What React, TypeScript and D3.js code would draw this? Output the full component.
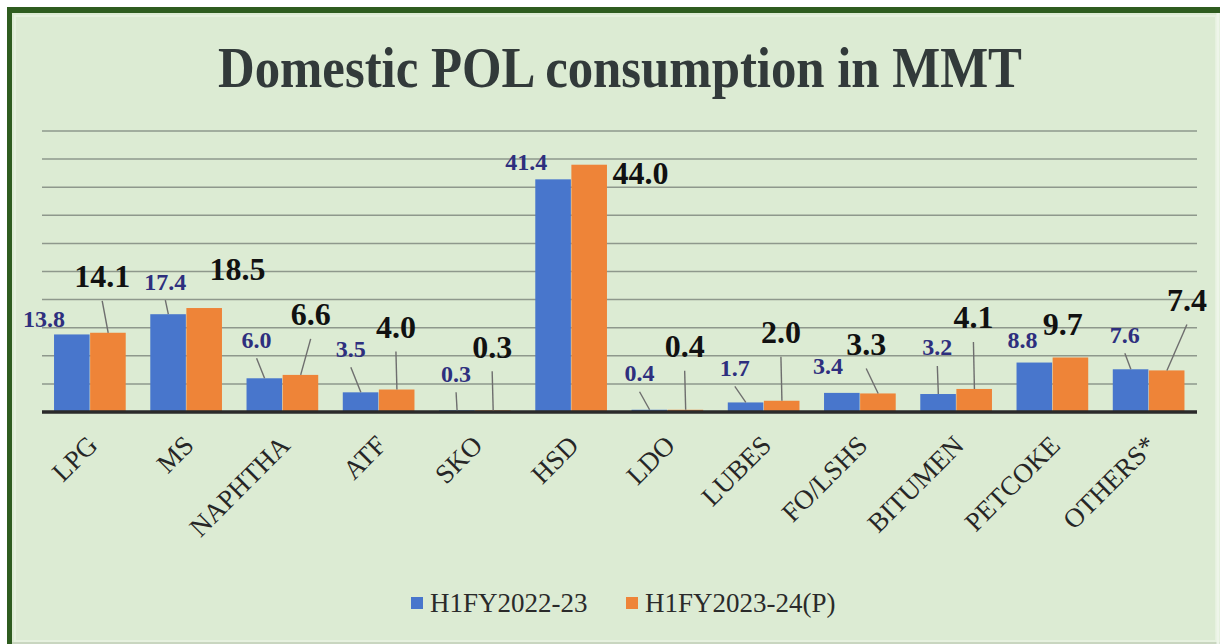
import * as d3 from "d3";
import React from "react";

const categories = ["LPG", "MS", "NAPHTHA", "ATF", "SKO", "HSD", "LDO", "LUBES", "FO/LSHS", "BITUMEN", "PETCOKE", "OTHERS*"];
const fy2223 = [13.8, 17.4, 6.0, 3.5, 0.3, 41.4, 0.4, 1.7, 3.4, 3.2, 8.8, 7.6];
const fy2324 = [14.1, 18.5, 6.6, 4.0, 0.3, 44.0, 0.4, 2.0, 3.3, 4.1, 9.7, 7.4];
const seriesNames = ["H1FY2022-23", "H1FY2023-24(P)"];
const title = "Domestic POL consumption in MMT";

// label placement relative to bar top centre: [dx, dy, leader line?]
const blueLabelPos: [number, number, boolean][] = [
    [-28, -16, false], [-3, -33, true], [-8, -39, true], [-10, -44, true],
    [-1, -37, true], [-27, -18, false], [-10, -37, true], [-11, -35, true],
    [-14, -27, false], [-1, -47, true], [-12, -23, false], [-6, -35, true],
];
const orangeLabelPos: [number, number, boolean][] = [
    [-6, -57, true], [33, -39, false], [10, -61, true], [-1, -63, true],
    [-1, -64, true], [51, 8, false], [-1, -64, true], [-1, -69, true],
    [-12, -50, true], [-1, -72, true], [-8, -34, false], [20, -71, true],
];

const W = 1220;
const H = 644;
const FONT = "'Palatino Linotype', 'Book Antiqua', Palatino, 'Liberation Serif', serif";
const BLUE = "#4876cc";
const ORANGE = "#ee8438";

const App: React.FC = () => {
    const x = d3.scaleBand<string>().domain(categories).range([42, 1197]).paddingInner(0.25).paddingOuter(0.125);
    const bw = x.bandwidth() / 2;
    const y = d3.scaleLinear().domain([0, 50]).range([412, 131]);
    const grid = y.ticks(10).filter(t => t > 0);
    const series = [
        { values: fy2223, color: BLUE, pos: blueLabelPos, off: 0 },
        { values: fy2324, color: ORANGE, pos: orangeLabelPos, off: bw },
    ];

    return (
        <svg width={W} height={H} style={{ position: "absolute", left: 0, top: 0, background: "white" }}>
            <rect x={7} y={7} width={W - 7} height={H - 7} fill="#dcebd3" />
            <rect x={7} y={7} width={W - 7} height={6} fill="#2e5c1f" />
            <rect x={7} y={7} width={5} height={H - 7} fill="#2e5c1f" />
            <rect x={15} y={16} width={W - 19} height={H - 19} fill="none" stroke="#e6f1df" strokeWidth={2} />
            <line x1={12} x2={W} y1={H - 1} y2={H - 1} stroke="#c9d6c0" strokeWidth={2} />
            <line x1={W - 2} x2={W - 2} y1={13} y2={H} stroke="#eef5ea" strokeWidth={3} />

            <text x={620} y={87} textAnchor="middle" fontFamily={FONT} fontWeight="bold" fontSize={56}
                fill="#323a3a" textLength={804} lengthAdjust="spacingAndGlyphs">{title}</text>

            {grid.map(t => (
                <line key={t} x1={42} x2={1197} y1={y(t)} y2={y(t)} stroke="#8e988c" strokeWidth={1.5} />
            ))}

            {series.map((s, si) => (
                <g key={si}>
                    {s.values.map((v, i) => (
                        <rect key={i} x={x(categories[i])! + s.off} y={y(v)} width={bw - 0.5}
                            height={y(0) - y(v)} fill={s.color} />
                    ))}
                </g>
            ))}

            <line x1={42} x2={1197} y1={y(0)} y2={y(0)} stroke="#2a2a2a" strokeWidth={3.5} />

            {series.map((s, si) => (
                <g key={"lab" + si}>
                    {s.values.map((v, i) => {
                        const bx = x(categories[i])! + s.off + bw / 2;
                        const by = y(v);
                        const [dx, dy, leader] = s.pos[i];
                        const lx = bx + dx;
                        const ly = by + dy;
                        const gap = si === 0 ? 19 : 25;
                        return (
                            <g key={i}>
                                {leader && (
                                    <line x1={lx} y1={ly + gap} x2={bx} y2={by} stroke="#6e6e6e" strokeWidth={1.4} />
                                )}
                                <text x={lx} y={ly} dy="0.35em" textAnchor="middle" fontFamily={FONT}
                                    fontWeight="bold" fontSize={si === 0 ? 24 : 32}
                                    fill={si === 0 ? "#2e2f7e" : "#111"}>
                                    {v.toFixed(1)}
                                </text>
                            </g>
                        );
                    })}
                </g>
            ))}

            {categories.map(c => {
                const cx = x(c)! + x.bandwidth() / 2;
                return (
                    <text key={c} transform={`translate(${cx + 9}, 447) rotate(-45)`} textAnchor="end"
                        fontFamily={FONT} fontSize={27} fill="#262626">{c}</text>
                );
            })}

            {seriesNames.map((n, i) => {
                const lx = i === 0 ? 411 : 626;
                return (
                    <g key={n}>
                        <rect x={lx} y={597} width={12} height={12} fill={i === 0 ? BLUE : ORANGE} />
                        <text x={lx + 19} y={612} fontFamily={FONT} fontSize={27} fill="#2a2a2a">{n}</text>
                    </g>
                );
            })}
        </svg>
    );
};

export default App;
